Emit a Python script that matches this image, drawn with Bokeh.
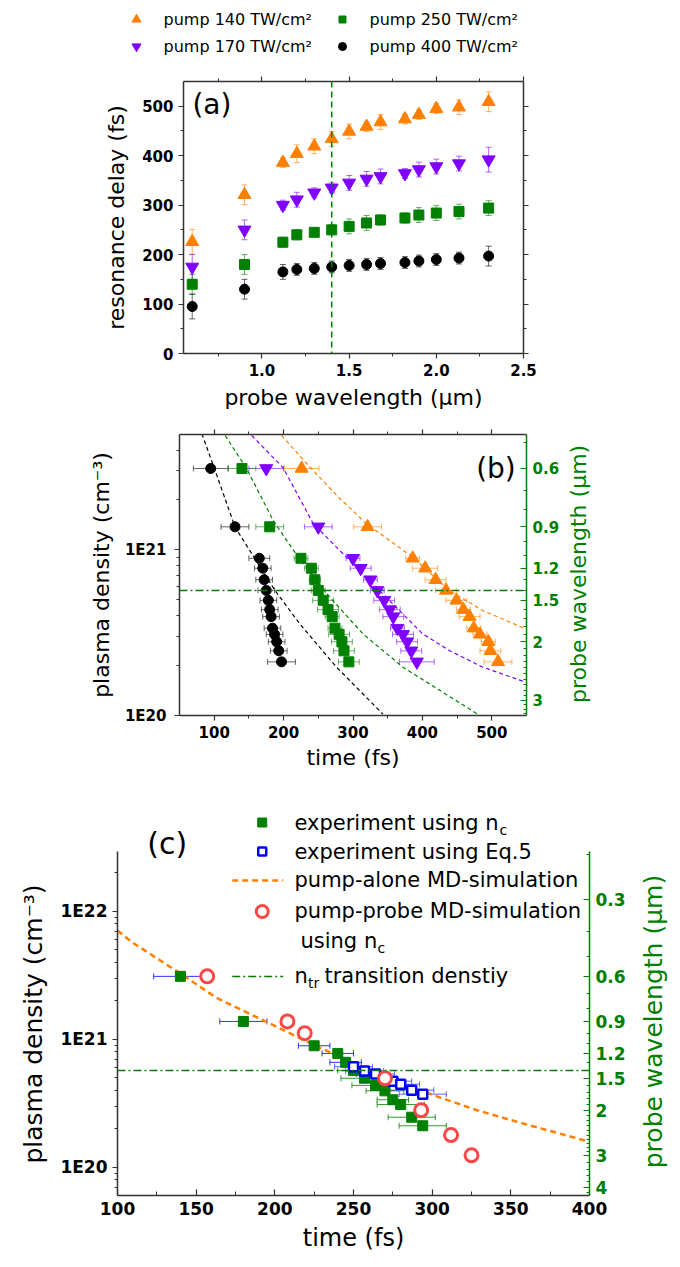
import numpy as np
from bokeh.plotting import figure
from bokeh.models import (Range1d, LinearAxis, LogScale, FixedTicker,
                          CustomJSTickFormatter, CustomLabelingPolicy, Whisker, TeeHead,
                          ColumnDataSource, Span)
from bokeh.layouts import row
from bokeh.core.properties import value
from bokeh.embed import file_html
from bokeh.resources import INLINE

FONT = "DejaVu Sans"
AXC = "#333333"
ORANGE = "#ff8000"
PURPLE = "#8000ff"
GREEN = "#008000"
BLACK = "#000000"
BLUE = "#0000ff"
RED = "#ff4545"

K_CRIT = 1.115e21   # critical density: n_c = K_CRIT / lambda^2 (cm^-3, lambda in um)

# ---------------- data: panels (a) and (b) ----------------
pump_labels = ["pump 140 TW/cm²", "pump 170 TW/cm²", "pump 250 TW/cm²", "pump 400 TW/cm²"]
wavelength = [0.6, 0.9, 1.12, 1.2, 1.3, 1.4, 1.5, 1.6, 1.68, 1.82, 1.9, 2.0, 2.13, 2.3]
delay_140 = [226, 321, 386, 404, 419, 434, 449, 459, 468, 474, 483, 495, 498, 509]
err_140 = [25, 20, 10, 18, 15, 15, 15, 10, 15, 10, 10, 10, 15, 20]
delay_170 = [175, 250, 300, 311, 325, 335, 345, 353, 358, 364, 372, 378, 384, 392]
err_170 = [25, 20, 10, 15, 10, 10, 15, 15, 15, 10, 15, 15, 15, 25]
delay_250 = [140, 180, 225, 240, 245, 250, 257, 264, 270, 274, 280, 284, 287, 294]
err_250 = [20, 20, 10, 10, 8, 10, 15, 15, 10, 10, 15, 15, 15, 15]
delay_400 = [95, 130, 165, 170, 172, 175, 178, 180, 182, 184, 187, 190, 193, 197]
err_400 = [25, 20, 15, 12, 12, 12, 12, 12, 12, 12, 12, 12, 12, 20]
lam_transition = 1.4

# fitted decay curves of panel (b); density in units of 1e20 cm^-3
fit140_t = [197.1, 237.8, 278.0, 319.1, 386.1, 438.7, 486.6, 548.8]
fit140_n = [49.0, 31.6, 21.0, 14.4, 9.02, 5.68, 4.31, 3.33]
fit170_t = [154.1, 199.5, 242.6, 295.2, 343.0, 400.4, 438.7, 486.6, 548.8]
fit170_n = [49.0, 31.2, 14.4, 8.61, 5.42, 3.11, 2.47, 1.96, 1.59]
fit250_t = [115.8, 146.9, 185.1, 221.0, 266.5, 314.3, 371.7, 479.4]
fit250_n = [49.0, 30.8, 15.0, 9.02, 5.18, 3.11, 1.96, 1.02]
fit400_t = [82.3, 100.5, 130.1, 187.6, 223.4, 276.1, 343.0]
fit400_n = [50.1, 30.8, 13.7, 5.68, 3.57, 1.96, 1.02]

# ---------------- data: panel (c) ----------------
c_exp_t = [140, 180, 225, 240, 245, 250, 257, 264, 270, 275, 280, 287, 294]
c_exp_lam = [0.6, 0.9, 1.12, 1.2, 1.3, 1.4, 1.5, 1.6, 1.68, 1.82, 1.9, 2.13, 2.3]
c_exp_err = [17, 15, 10, 10, 10, 10, 15, 15, 12, 10, 15, 15, 15]
c_eq5_t = [250, 257, 264, 275, 280, 287, 294]
c_eq5_n = [6.1, 5.65, 5.35, 4.7, 4.45, 4.0, 3.72]      # 1e20 cm^-3
c_eq5_err = [12, 12, 12, 12, 12, 14, 15]
c_md_t = [157, 208, 219, 270, 293, 312, 325]
c_md_lam = [0.6, 0.9, 1.0, 1.5, 2.0, 2.5, 3.0]
c_sim_t = [100, 109, 140, 163, 195, 225, 250, 273, 301, 328, 354, 377, 400]
c_sim_n = [70.6, 57.5, 32.6, 21.0, 13.6, 9.0, 6.5, 4.8, 3.65, 2.8, 2.26, 1.89, 1.58]  # 1e20


def ncrit(lams):
    return [K_CRIT / l ** 2 for l in lams]


n_tr = K_CRIT / lam_transition ** 2
W = 680

NO_LABELS = "for (const i of indices) { indices.unset(i) }\nreturn indices"


def style_axis(ax, labels=True, tin=0, tout=5, mtin=0, mtout=3, color=AXC, label_color="black",
               tick_size="15px", title_size="22px"):
    ax.axis_line_color = color
    ax.axis_line_width = 1.5
    ax.major_tick_line_color = color
    ax.minor_tick_line_color = color
    ax.major_tick_line_width = 1.2
    ax.minor_tick_line_width = 1.0
    ax.major_tick_in = tin
    ax.major_tick_out = tout
    ax.minor_tick_in = mtin
    ax.minor_tick_out = mtout
    ax.major_label_text_font = FONT
    ax.major_label_text_font_style = "bold"
    ax.major_label_text_font_size = tick_size
    ax.major_label_text_color = label_color
    ax.axis_label_text_font = FONT
    ax.axis_label_text_font_style = "normal"
    ax.axis_label_text_font_size = title_size
    ax.axis_label_text_color = label_color
    if not labels:
        ax.major_label_text_font_size = "0px"
        ax.major_label_standoff = 0
        ax.major_label_policy = CustomLabelingPolicy(code=NO_LABELS)


def whiskers(p, base, lo, hi, color, dim, alpha=0.6):
    src = ColumnDataSource(dict(base=base, lo=lo, hi=hi))
    w = Whisker(source=src, base="base", lower="lo", upper="hi", dimension=dim,
                line_color=color, line_alpha=alpha, line_width=1,
                upper_head=TeeHead(size=6, line_color=color, line_alpha=alpha, line_width=1),
                lower_head=TeeHead(size=6, line_color=color, line_alpha=alpha, line_width=1))
    p.add_layout(w)


def clean(p):
    p.grid.visible = False
    p.outline_line_color = None
    p.background_fill_color = "white"
    p.border_fill_color = "white"


def title_strip(width, height, y_range, top, bottom, x, y, text, color, size):
    """Narrow figure that only carries a rotated axis title (reads bottom to top)."""
    f = figure(width=width, height=height, x_range=Range1d(0, width), y_range=y_range,
               y_axis_type="log", output_backend="svg", toolbar_location=None,
               min_border_left=0, min_border_right=0, min_border_top=top,
               min_border_bottom=bottom, x_axis_location=None, y_axis_location=None)
    clean(f)
    f.text([x], [y], text=[text], angle=np.pi / 2, text_font=value(FONT), text_font_size=size,
           text_color=color, text_align="center", text_baseline="middle")
    return f


series = [
    (delay_140, err_140, "triangle", ORANGE, 13, fit140_t, fit140_n),
    (delay_170, err_170, "inverted_triangle", PURPLE, 13, fit170_t, fit170_n),
    (delay_250, err_250, "square", GREEN, 10, fit250_t, fit250_n),
    (delay_400, err_400, "circle", BLACK, 10, fit400_t, fit400_n),
]

# ---------------- top legend ----------------
pl = figure(width=W, height=68, x_range=Range1d(0, W), y_range=Range1d(68, 0),
            output_backend="svg", toolbar_location=None, min_border=0,
            x_axis_location=None, y_axis_location=None)
clean(pl)
leg_pos = [(136, 19), (136, 46), (342, 19), (342, 46)]
leg_sizes = [9, 9, 7, 8]
for (mx, my), s, lab, sz in zip(leg_pos, series, pump_labels, leg_sizes):
    pl.scatter([mx], [my], marker=s[2], size=sz, color=s[3])
    pl.text([mx + 27], [my], text=[lab], text_font=value(FONT), text_font_size="16px",
            text_baseline="middle", text_align="left", text_color="black")

# ---------------- panel (a) ----------------
pa = figure(width=W, height=352, x_range=Range1d(0.55, 2.5), y_range=Range1d(0, 550),
            output_backend="svg", toolbar_location=None,
            min_border_left=183, min_border_right=157, min_border_top=13, min_border_bottom=67)
clean(pa)
xt_a = FixedTicker(ticks=[1.0, 1.5, 2.0, 2.5], minor_ticks=[0.75, 1.25, 1.75, 2.25])
yt_a = FixedTicker(ticks=[0, 100, 200, 300, 400, 500], minor_ticks=[50, 150, 250, 350, 450])
bx = pa.below[0]
bx.ticker = xt_a
bx.formatter = CustomJSTickFormatter(code="return tick.toFixed(1);")
bx.axis_label = "probe wavelength (μm)"
style_axis(bx)
bx.axis_label_standoff = 6
ly = pa.left[0]
ly.ticker = yt_a
ly.axis_label = "resonance delay (fs)"
style_axis(ly)
ly.axis_label_standoff = 10
ta = LinearAxis(ticker=xt_a)
style_axis(ta, labels=False)
pa.add_layout(ta, "above")
ra = LinearAxis(ticker=yt_a)
style_axis(ra, labels=False)
pa.add_layout(ra, "right")
pa.add_layout(Span(location=lam_transition, dimension="height", line_color=GREEN,
                   line_dash="6 4", line_width=1.5))
for d, e, mk, col, sz, _, _ in series:
    whiskers(pa, wavelength, [a - b for a, b in zip(d, e)], [a + b for a, b in zip(d, e)], col, "height")
    pa.scatter(wavelength, d, marker=mk, size=sz, color=col)
pa.text([0.713], [504], text=["(a)"], text_font=value(FONT), text_font_size="28px",
        text_align="center", text_baseline="middle")

# ---------------- panel (b) ----------------
yb_top = 10 ** 21.696
PB_W, PB_H = 562, 380
pb = figure(width=PB_W, height=PB_H, x_range=Range1d(50, 550), y_range=Range1d(1e20, yb_top),
            y_axis_type="log", output_backend="svg", toolbar_location=None,
            min_border_left=179, min_border_right=36, min_border_top=14, min_border_bottom=85)
clean(pb)
pb.extra_y_ranges = {"lam": Range1d(np.sqrt(K_CRIT / 1e20), np.sqrt(K_CRIT / yb_top))}
pb.extra_y_scales = {"lam": LogScale()}
xt_b = FixedTicker(ticks=[100, 200, 300, 400, 500], minor_ticks=[150, 250, 350, 450])
yt_b = FixedTicker(ticks=[1e20, 1e21],
                   minor_ticks=[k * 1e20 for k in range(2, 10)] + [k * 1e21 for k in range(2, 6)])
log_fmt = CustomJSTickFormatter(code="return '1E' + Math.round(Math.log10(tick));")
lam_fmt = CustomJSTickFormatter(code="return (tick >= 2) ? tick.toFixed(0) : tick.toFixed(1);")
bxb = pb.below[0]
bxb.ticker = xt_b
bxb.axis_label = "time (fs)"
style_axis(bxb)
bxb.axis_label_standoff = 4
lyb = pb.left[0]
lyb.ticker = yt_b
lyb.formatter = log_fmt
lyb.axis_label = "plasma density (cm⁻³)"
style_axis(lyb)
lyb.major_label_standoff = 8
lyb.axis_label_standoff = 8
tb = LinearAxis(ticker=xt_b)
style_axis(tb, labels=False)
pb.add_layout(tb, "above")
lam_minor_b = [round(v, 1) for v in np.arange(0.5, 3.35, 0.1)
               if round(v, 1) not in (0.6, 0.9, 1.2, 1.5, 2.0, 3.0)]
rb = LinearAxis(y_range_name="lam", ticker=FixedTicker(ticks=[0.6, 0.9, 1.2, 1.5, 2, 3],
                                                       minor_ticks=lam_minor_b),
                formatter=lam_fmt)
style_axis(rb, tin=6, tout=0, mtin=3, mtout=0, color=GREEN, label_color=GREEN)
rb.major_label_standoff = 6
pb.add_layout(rb, "right")
pb.add_layout(Span(location=n_tr, dimension="width", line_color=GREEN,
                   line_dash="8 3 2 3", line_width=1.5))
for d, e, mk, col, sz, ft, fn in series:
    pb.line(ft, [v * 1e20 for v in fn], line_color=col, line_dash="4 3", line_width=1.2)
for d, e, mk, col, sz, ft, fn in series:
    nn = ncrit(wavelength)
    whiskers(pb, nn, [a - b for a, b in zip(d, e)], [a + b for a, b in zip(d, e)], col, "width")
    pb.scatter(d, nn, marker=mk, size=sz, color=col)
pb.text([506], [3.09e21], text=["(b)"], text_font=value(FONT), text_font_size="28px",
        text_align="center", text_baseline="middle")
pb_title = title_strip(40, PB_H, Range1d(1e20, yb_top), 14, 85, 16, 7.15e20,
                       "probe wavelength (μm)", GREEN, "22px")

# ---------------- panel (c) ----------------
yc_bot = 10 ** 19.779
yc_top = 10 ** 22.818
yc_axis_top = 10 ** 22.469
PC_H = 467
PC_L, PC_R = 53, 40
pc = figure(width=W - PC_L - PC_R, height=PC_H, x_range=Range1d(100, 400),
            y_range=Range1d(yc_bot, yc_top),
            y_axis_type="log", output_backend="svg", toolbar_location=None,
            min_border_left=64, min_border_right=51, min_border_top=6, min_border_bottom=72)
clean(pc)
pc.extra_y_ranges = {"lam": Range1d(np.sqrt(K_CRIT / yc_bot), np.sqrt(K_CRIT / yc_top))}
pc.extra_y_scales = {"lam": LogScale()}
xt_c = FixedTicker(ticks=[100, 150, 200, 250, 300, 350, 400],
                   minor_ticks=[125, 175, 225, 275, 325, 375])
yt_c = FixedTicker(ticks=[1e20, 1e21, 1e22],
                   minor_ticks=[k * 1e19 for k in range(6, 10)] + [k * 1e20 for k in range(2, 10)]
                   + [k * 1e21 for k in range(2, 10)] + [2e22])
bxc = pc.below[0]
bxc.ticker = xt_c
bxc.axis_label = "time (fs)"
style_axis(bxc, tin=6, tout=0, mtin=4, mtout=0, tick_size="17px", title_size="24px")
bxc.major_label_standoff = 6
bxc.axis_label_standoff = 6
lyc = pc.left[0]
lyc.ticker = yt_c
lyc.formatter = log_fmt
lyc.bounds = (yc_bot, yc_axis_top)
style_axis(lyc, tick_size="17px")
lyc.major_label_standoff = 5
lam_minor_c = [round(v, 1) for v in np.arange(0.2, 3.05, 0.1)
               if round(v, 1) not in (0.3, 0.6, 0.9, 1.2, 1.5, 2.0, 3.0)] + [3.2, 3.4, 3.6, 3.8, 4.2]
rc = LinearAxis(y_range_name="lam",
                ticker=FixedTicker(ticks=[0.3, 0.6, 0.9, 1.2, 1.5, 2, 3, 4], minor_ticks=lam_minor_c),
                formatter=lam_fmt,
                bounds=(np.sqrt(K_CRIT / yc_axis_top), np.sqrt(K_CRIT / yc_bot)))
style_axis(rc, tin=6, tout=0, mtin=3, mtout=0, color=GREEN, label_color=GREEN, tick_size="17px")
rc.major_label_standoff = 6
pc.add_layout(rc, "right")
pc.add_layout(Span(location=n_tr, dimension="width", line_color=GREEN,
                   line_dash="8 3 2 3", line_width=1.5))
pc.line(c_sim_t, [v * 1e20 for v in c_sim_n], line_color=ORANGE, line_dash="6 4", line_width=2.5)

c_exp_n = ncrit(c_exp_lam)
hi_idx = [i for i, n in enumerate(c_exp_n) if n > n_tr]
lo_idx = [i for i, n in enumerate(c_exp_n) if n <= n_tr]
for idx, col in ((lo_idx, GREEN), (hi_idx, BLUE)):
    whiskers(pc, [c_exp_n[i] for i in idx],
             [c_exp_t[i] - c_exp_err[i] for i in idx],
             [c_exp_t[i] + c_exp_err[i] for i in idx], col, "width", alpha=0.8)
eq5_n = [v * 1e20 for v in c_eq5_n]
whiskers(pc, eq5_n, [a - b for a, b in zip(c_eq5_t, c_eq5_err)],
         [a + b for a, b in zip(c_eq5_t, c_eq5_err)], BLUE, "width", alpha=0.6)
pc.scatter(c_exp_t, c_exp_n, marker="square", size=10, color=GREEN)
pc.scatter(c_eq5_t, eq5_n, marker="square", size=9, line_color=BLUE, fill_color="white",
           line_width=2.5)
pc.scatter(c_md_t, ncrit(c_md_lam), marker="circle", size=13, line_color=RED,
           fill_color="white", line_width=3)

# legend of panel (c)
LX_M, LX_T, LX_L0, LX_L1 = 192, 212.5, 172.9, 205.3
rows = [10 ** 22.693, 10 ** 22.466, 10 ** 22.240, 10 ** 21.998, 10 ** 21.771, 10 ** 21.490]
tf = dict(text_font=value(FONT), text_baseline="middle", text_align="left", text_color="black")
pc.scatter([LX_M], [rows[0]], marker="square", size=9, color=GREEN)
pc.scatter([LX_M], [rows[1]], marker="square", size=8, line_color=BLUE, fill_color="white",
           line_width=2.5)
pc.line([LX_L0, LX_L1], [rows[2], rows[2]], line_color=ORANGE, line_dash="6 4", line_width=2.5)
pc.scatter([LX_M], [rows[3]], marker="circle", size=12, line_color=RED, fill_color="white",
           line_width=3)
pc.line([LX_L0, LX_L1], [rows[5], rows[5]], line_color=GREEN, line_dash="8 3 2 3", line_width=1.5)
pc.text([LX_T], [rows[0]], text=["experiment using n"], text_font_size="21px", **tf)
pc.text([LX_T], [rows[0]], text=["c"], text_font_size="14px", x_offset=205, y_offset=7, **tf)
pc.text([LX_T], [rows[1]], text=["experiment using Eq.5"], text_font_size="21px", **tf)
pc.text([LX_T], [rows[2]], text=["pump-alone MD-simulation"], text_font_size="21px", **tf)
pc.text([LX_T], [rows[3]], text=["pump-probe MD-simulation"], text_font_size="21px", **tf)
pc.text([LX_T + 3.8], [rows[4]], text=["using n"], text_font_size="21px", **tf)
pc.text([LX_T + 3.8], [rows[4]], text=["c"], text_font_size="14px", x_offset=77, y_offset=7, **tf)
pc.text([LX_T], [rows[5]], text=["n"], text_font_size="21px", **tf)
pc.text([LX_T], [rows[5]], text=["tr"], text_font_size="14px", x_offset=13.5, y_offset=7, **tf)
pc.text([LX_T], [rows[5]], text=["transition denstiy"], text_font_size="21px", x_offset=30, **tf)
pc.text([131.6], [3.38e22], text=["(c)"], text_font=value(FONT), text_font_size="30px",
        text_align="center", text_baseline="middle")

pc_ltitle = title_strip(PC_L, PC_H, Range1d(yc_bot, yc_top), 6, 72, 33, 1.315e21,
                        "plasma density (cm⁻³)", "black", "25px")
pc_rtitle = title_strip(PC_R, PC_H, Range1d(yc_bot, yc_top), 6, 72, 13, 1.374e21,
                        "probe wavelength (μm)", GREEN, "25px")

roots = [pl, pa, row(pb, pb_title, spacing=0), row(pc_ltitle, pc, pc_rtitle, spacing=0)]
open("out.html", "w").write(file_html(roots, INLINE))
